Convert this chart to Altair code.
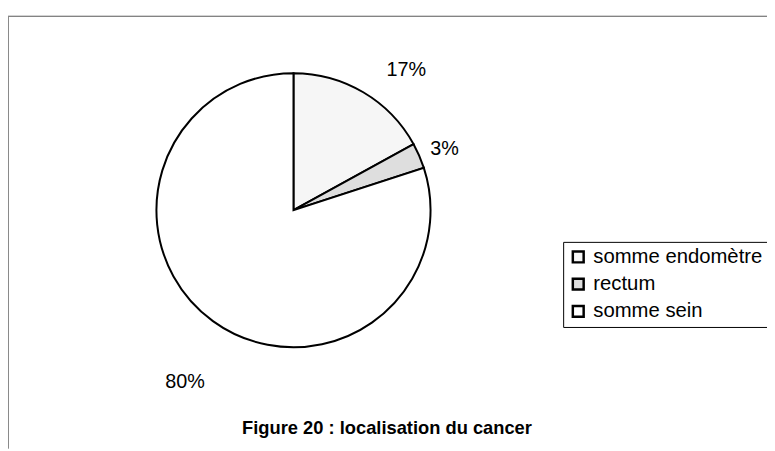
import altair as alt
import pandas as pd

categories = ["somme endomètre", "rectum", "somme sein"]
values = [17, 3, 80]
labels = ["17%", "3%", "80%"]
fills = ["#f6f6f6", "#dedede", "#ffffff"]

df = pd.DataFrame({
    "cat": categories,
    "val": values,
    "lab": labels,
    "idx": list(range(len(categories))),
})

W, H = 767, 443
CX, CY, R = 288.5, 202, 138.5

base = alt.Chart(df).encode(
    theta=alt.Theta("val:Q", stack=True),
    order=alt.Order("idx:Q"),
)

pie = base.mark_arc(radius=R, stroke="black", strokeWidth=2).encode(
    x=alt.value(CX), y=alt.value(CY),
    color=alt.Color("cat:N", sort=categories,
                    scale=alt.Scale(domain=categories, range=fills),
                    legend=alt.Legend(title=None, orient="none",
                                      legendX=561, legendY=234,
                                      symbolType="square", symbolSize=120,
                                      symbolStrokeColor="black", symbolStrokeWidth=2.5,
                                      labelFontSize=20.5, labelFont="Liberation Sans",
                                      labelColor="black", labelLimit=400,
                                      strokeColor="black", fillColor="white",
                                      padding=5, rowPadding=5.5, labelOffset=5,
                                      offset=0)),
)

label_base = alt.Chart(df).transform_window(
    cum="sum(val)", sort=[alt.SortField("idx")]
).transform_joinaggregate(tot="sum(val)").transform_calculate(
    mid="(datum.cum - datum.val/2) / datum.tot * 2 * PI"
)

def lab(cat, r, dx, dy):
    return label_base.transform_filter(alt.datum.cat == cat).mark_text(
        radius=r, dx=dx, dy=dy, fontSize=20, font="Liberation Sans", color="black"
    ).encode(
        x=alt.value(CX), y=alt.value(CY),
        theta=alt.Theta("mid:Q", scale=None),
        text="lab:N",
    )

labs = lab("somme endomètre", 165, 30, 0) + lab("rectum", 163, 3, 3) + lab("somme sein", 200, 8, 12)

frame_top = alt.Chart(df).transform_filter(alt.datum.idx == 0).mark_rule(
    color="#555555", strokeWidth=1
).encode(x=alt.value(0), x2=alt.value(W), y=alt.value(6))
frame_left = alt.Chart(df).transform_filter(alt.datum.idx == 0).mark_rule(
    color="#888888", strokeWidth=1
).encode(x=alt.value(0.5), y=alt.value(6), y2=alt.value(H))

title = alt.Chart(df).transform_filter(alt.datum.idx == 0).mark_text(
    fontSize=18.5, fontWeight="bold", font="Liberation Sans", color="black"
).encode(x=alt.value(383), y=alt.value(422), text=alt.value("Figure 20 : localisation du cancer"))

chart = alt.layer(frame_top, frame_left, pie, labs, title).properties(
    width=W, height=H, padding=0, background="white",
    autosize=alt.AutoSizeParams(type="none"),
).configure_view(stroke=None)

chart.save("out.html", embed_options={"renderer": "svg", "actions": False})
